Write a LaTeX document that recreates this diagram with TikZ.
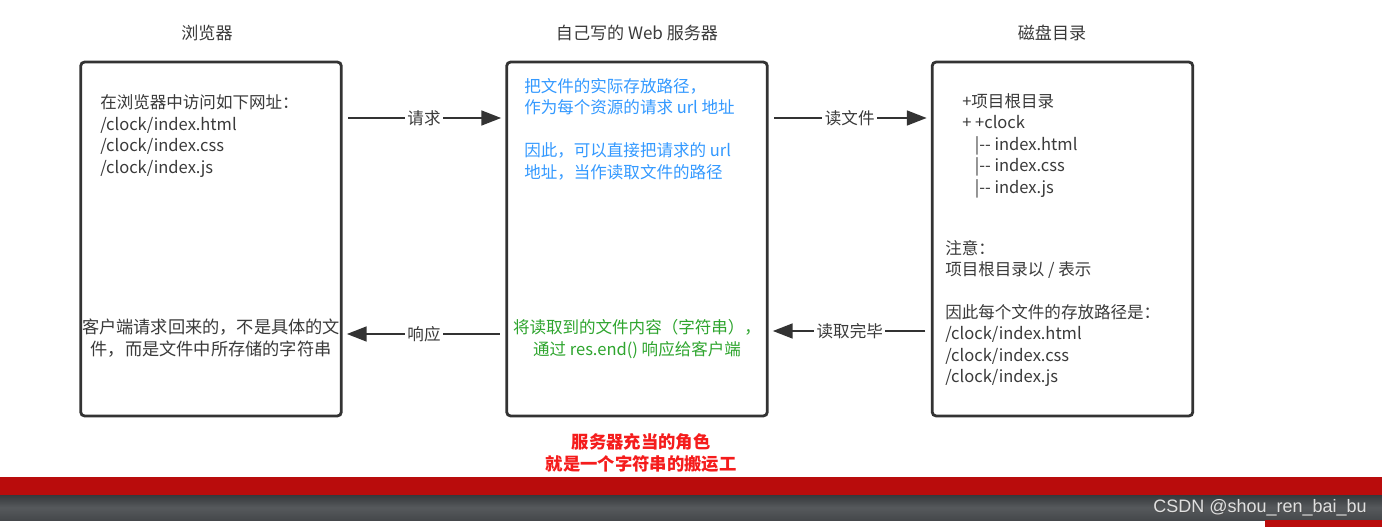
\documentclass[tikz,border=0pt]{standalone}
\usepackage{fontspec}
\setmainfont{Noto Sans CJK SC}
\newfontfamily\wmfont{Liberation Sans}
\usetikzlibrary{arrows.meta,shadings}
\definecolor{ink}{HTML}{333333}
\definecolor{txt}{HTML}{3A3A3A}
\definecolor{blu}{HTML}{3399FF}
\definecolor{grn}{HTML}{2EA52E}
\definecolor{rd}{HTML}{F51C1C}
\definecolor{barred}{HTML}{B90C0C}
\definecolor{gtop}{HTML}{36393C}
\definecolor{gmid}{HTML}{56595C}
\definecolor{gbot}{HTML}{45484B}
\tikzset{
  box/.style={draw=ink, line width=2.1pt, rounded corners=3pt, minimum width=195.5pt, minimum height=265.5pt, inner sep=0pt},
  ttl/.style={text=txt, font=\fontsize{12.8}{15}\selectfont, inner sep=0pt},
  body/.style={text=txt, font=\fontsize{12.4}{16.1}\selectfont, inner sep=0pt, align=left},
  conn/.style={draw=ink, line width=2.1pt, -{Triangle[length=15pt,width=11pt]}, shorten <=4pt, shorten >=3pt},
  lbl/.style={fill=white, text=txt, font=\fontsize{12.4}{15}\selectfont, inner xsep=2pt, inner ysep=1pt},
}
\begin{document}
\begin{tikzpicture}[x=0.75pt,y=-0.75pt]
\useasboundingbox (0,0) rectangle (1382,527);
\fill[white] (0,0) rectangle (1382,527);
% titles
\node[ttl] (t1) at (207,33) {浏览器};
\node[ttl] (t2) at (637,33) {自己写的 Web 服务器};
\node[ttl] (t3) at (1052,33) {磁盘目录};
% boxes
\node[box] (b1) at (211,239) {};
\node[box] (b2) at (637,239) {};
\node[box] (b3) at (1062.5,239) {};
% box1 texts
\node[body, anchor=west] (x1) at (100,136) {在浏览器中访问如下网址：\\/clock/index.html\\/clock/index.css\\/clock/index.js};
\node[body, align=center, font=\fontsize{12.9}{16.1}\selectfont] (x2) at (211,338) {客户端请求回来的，不是具体的文\\件，而是文件中所存储的字符串};
% box2 texts
\node[body, anchor=west, text=blu] (x3) at (524,129) {把文件的实际存放路径，\\作为每个资源的请求 url 地址\\[16.1pt]因此，可以直接把请求的 url\\地址，当作读取文件的路径};
\node[body, align=center, text=grn] (x4) at (637,339) {将读取到的文件内容（字符串），\\通过 res.end() 响应给客户端};
% box3 texts
\node[body, anchor=west] (x5) at (962,145.5) {+项目根目录\\+ +clock\\\hspace*{9.5pt}|-{}- index.html\\\hspace*{9.5pt}|-{}- index.css\\\hspace*{9.5pt}|-{}- index.js};
\node[body, anchor=west] (x6) at (945,313.5) {注意：\\项目根目录以 / 表示\\[16.1pt]因此每个文件的存放路径是：\\/clock/index.html\\/clock/index.css\\/clock/index.js};
% connectors
\draw[conn] ([yshift=90.75pt]b1.east) -- node[lbl]{请求} ([yshift=90.75pt]b2.west);
\draw[conn] ([yshift=90.75pt]b2.east) -- node[lbl]{读文件} ([yshift=90.75pt]b3.west);
\draw[conn] ([yshift=-69pt]b3.west) -- node[lbl]{读取完毕} ([yshift=-69pt]b2.east);
\draw[conn] ([yshift=-71.25pt]b2.west) -- node[lbl]{响应} ([yshift=-71.25pt]b1.east);
% red note
\node[text=rd, font=\fontsize{13}{16.5}\selectfont\bfseries, align=center, inner sep=0pt] (note) at (641,453) {服务器充当的角色\\就是一个字符串的搬运工};
% bottom bars
\fill[barred] (0,477) rectangle (1382,495);
\shade[top color=gtop, bottom color=gbot, middle color=gmid] (0,495) rectangle (1382,520);
\fill[barred] (1265,520) rectangle (1382,527);
\node[anchor=east, text=black!70, font=\wmfont\fontsize{13.5}{15}\selectfont, inner sep=0pt] (wms) at (1368,509) {CSDN @shou\_ren\_bai\_bu};
\node[anchor=east, text=white!88!black, font=\wmfont\fontsize{13.5}{15}\selectfont, inner sep=0pt] (wm) at (1367,508) {CSDN @shou\_ren\_bai\_bu};
\end{tikzpicture}
\end{document}
